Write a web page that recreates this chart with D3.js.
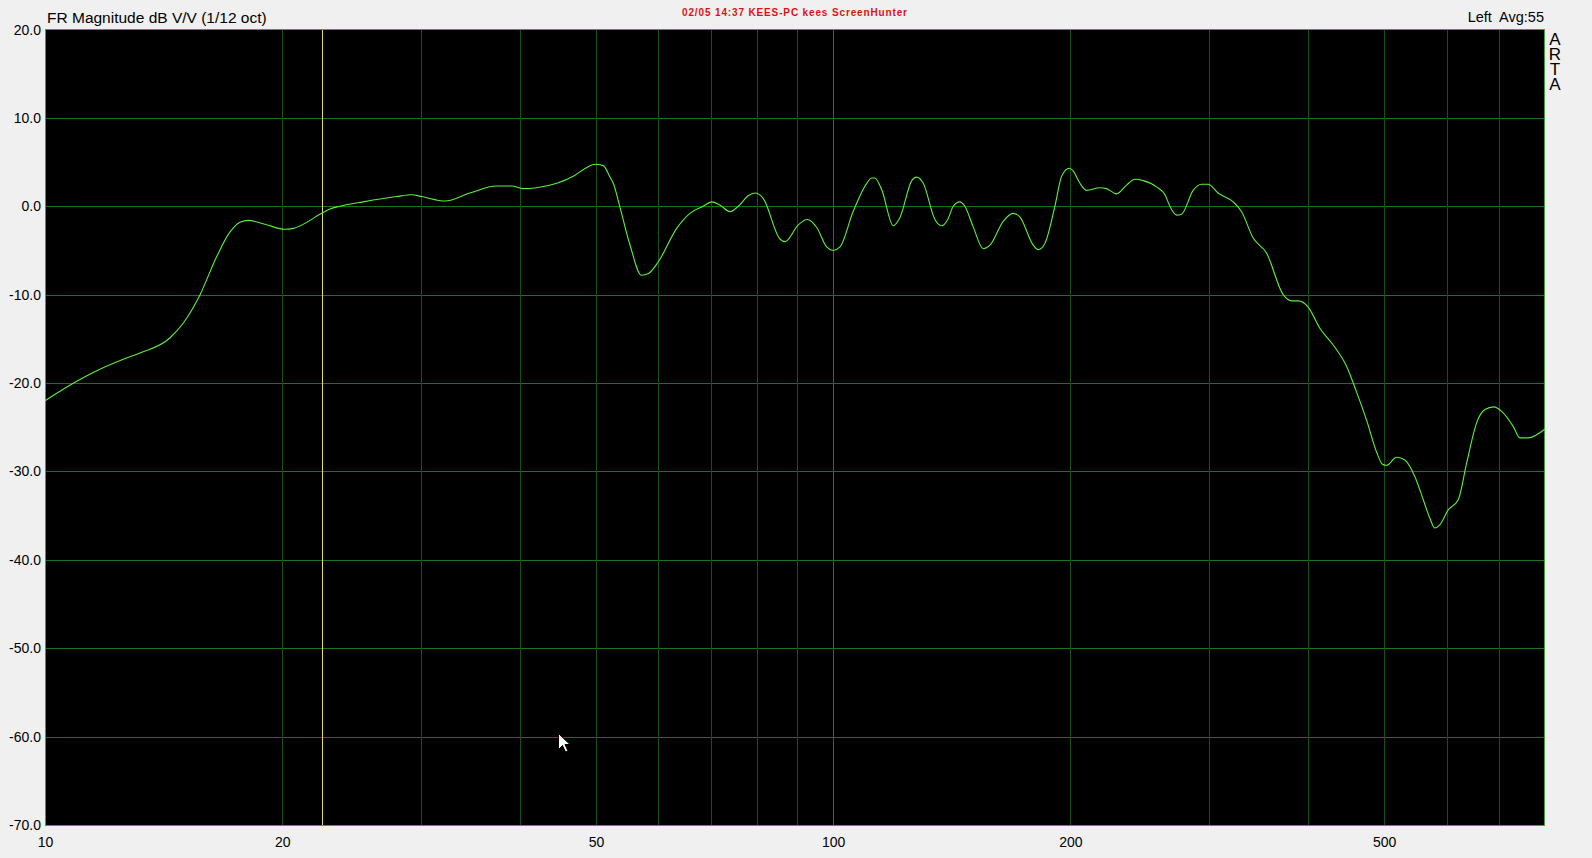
<!DOCTYPE html>
<html><head><meta charset="utf-8">
<script src="https://cdn.jsdelivr.net/npm/d3@7"></script>
<style>html,body{margin:0;padding:0;background:#f0f0f0;overflow:hidden}svg{display:block}</style>
</head><body>
<svg id="c" width="1592" height="858"></svg>
<script>
// ---- data ----
const freqHz = [10.0,10.97,11.51,12.57,13.2,14.4,14.98,15.73,16.51,17.17,17.68,18.11,19.1,20.16,20.65,22.44,23.0,23.67,25.34,27.93,29.19,30.06,32.17,34.6,37.4,39.1,40.4,42.05,44.6,46.8,48.7,49.87,51.08,52.1,52.6,53.6,55.2,57.1,58.3,59.98,63.3,65.8,68.4,70.1,71.8,73.96,75.8,78.0,79.6,81.5,85.6,86.9,90.3,92.7,95.3,98.1,100,102,106,110.3,111.9,112.9,115.2,119.2,121.5,125.8,127.6,130.1,134.6,137.3,139.9,142.0,144.8,146.9,150.5,155.0,158.1,164.3,169.2,172.5,179.4,182.0,185.6,191.1,194.9,199.3,201.6,205.6,209.7,217.9,222.2,228.8,235.6,241.4,247.4,257.2,263.6,267.4,272.7,276.7,286.2,293.3,299.1,307.8,321.7,329.6,341.1,354.7,372.3,381.5,389.0,400.5,414.4,430.9,448.0,461.3,475.0,489.1,497.8,503.6,518.6,531.3,547.1,560.6,571.5,579.9,588.4,603.0,620.9,636.2,655.1,671.2,689.0,704.7,729.0,743.4,761.6,800];
const magDb = [-22.0,-19.8,-18.8,-17.3,-16.6,-14.9,-13.2,-10.0,-5.7,-2.9,-1.8,-1.6,-2.1,-2.6,-2.5,-0.8,-0.3,0.0,0.5,1.1,1.3,1.1,0.6,1.5,2.3,2.3,2.0,2.1,2.6,3.4,4.4,4.75,4.6,3.3,2.6,0.0,-4.3,-7.8,-7.6,-6.3,-2.5,-0.8,0.0,0.5,0.15,-0.6,0.0,1.2,1.5,0.9,-3.7,-4.0,-2.1,-1.5,-2.4,-4.6,-5.0,-4.6,-0.6,2.6,3.2,3.2,1.9,-2.2,-1.3,2.9,3.3,2.6,-1.5,-2.2,-1.4,0.0,0.5,0.0,-2.3,-4.8,-4.4,-1.7,-0.8,-1.2,-4.4,-4.9,-4.2,0.0,3.4,4.3,4.0,2.6,1.8,2.1,2.0,1.4,2.4,3.05,2.9,2.2,1.3,0.0,-1.0,-0.9,1.8,2.5,2.5,1.5,0.5,-0.6,-3.6,-5.3,-10.0,-10.7,-10.7,-11.4,-13.8,-15.7,-18.1,-21.0,-24.2,-27.8,-29.2,-29.3,-28.4,-28.7,-30.6,-33.2,-35.3,-36.4,-36.05,-34.35,-33.2,-29.1,-24.5,-23.0,-22.7,-23.2,-24.9,-26.2,-26.2,-25.2];
const xDomain = [10, 800];
const yDomain = [-70, 20];
const xGridHz = [20,30,40,50,60,70,80,90,100,200,300,400,500,600,700];
const xTickLabels = [10,20,50,100,200,500];
const yTicks = [20,10,0,-10,-20,-30,-40,-50,-60,-70];
const markerHz = 22.47;
const cursorPos = [44.75, -59.6];
const titleText = "FR Magnitude dB V/V (1/12 oct)";
const stampText = "02/05 14:37 KEES-PC kees ScreenHunter";
const rightText = "Left  Avg:55";
const brandText = "ARTA";

// ---- layout ----
const L = 45, R = 1545, T = 29.5, B = 825;
const svg = d3.select("#c");
const x = d3.scaleLog().domain(xDomain).range([L, R]);
const y = d3.scaleLinear().domain(yDomain).range([B, T]);
const font = "'Liberation Sans', Arial, sans-serif";

svg.append("rect").attr("width",1592).attr("height",858).attr("fill","#f0f0f0");
svg.append("rect").attr("x",L).attr("y",T).attr("width",R-L).attr("height",B-T).attr("fill","#000");

// grid
const g = svg.append("g").attr("shape-rendering","crispEdges");
g.selectAll(".hg").data(yTicks.filter(v=>v>yDomain[0]&&v<yDomain[1])).join("line")
  .attr("x1",L).attr("x2",R).attr("y1",d=>Math.round(y(d))+0.5).attr("y2",d=>Math.round(y(d))+0.5)
  .attr("stroke","#1a721a").attr("stroke-width",1);
g.selectAll(".vg").data(xGridHz).join("line")
  .attr("x1",d=>Math.round(x(d))+0.5).attr("x2",d=>Math.round(x(d))+0.5).attr("y1",T).attr("y2",B)
  .attr("stroke",d=>d===100?"#1c7c1c":"#135213").attr("stroke-width",1);

// yellow marker
g.append("line").attr("x1",Math.round(x(markerHz))+0.5).attr("x2",Math.round(x(markerHz))+0.5)
  .attr("y1",T).attr("y2",B).attr("stroke","#e6dc66").attr("stroke-width",1);

// border
g.append("rect").attr("x",L+0.5).attr("y",T).attr("width",R-L-1).attr("height",B-T)
  .attr("fill","none").attr("stroke","#40a040").attr("stroke-width",1);

// curve
const pts = freqHz.map((f,i)=>[f, magDb[i]]);
const line = d3.line().x(d=>x(d[0])).y(d=>y(d[1])).curve(d3.curveMonotoneX);
svg.append("path").datum(pts).attr("d",line).attr("fill","none")
  .attr("stroke","#5cf03c").attr("stroke-width",1.1);

// y tick labels
svg.selectAll(".yl").data(yTicks).join("text")
  .attr("x",41).attr("y",d=>y(d)+5).attr("text-anchor","end")
  .attr("font-family",font).attr("font-size",14).attr("fill","#000")
  .text(d=>d.toFixed(1));

// x tick labels
svg.selectAll(".xl").data(xTickLabels).join("text")
  .attr("x",d=>x(d)+0.5).attr("y",847).attr("text-anchor","middle")
  .attr("font-family",font).attr("font-size",14).attr("fill","#000")
  .text(d=>d);

// title
svg.append("text").attr("x",47).attr("y",23).attr("font-family",font).attr("font-size",15.5)
  .attr("fill","#000").text(titleText);
// stamp
svg.append("text").attr("x",794.5).attr("y",16).attr("text-anchor","middle")
  .attr("font-family",font).attr("font-size",10).attr("font-weight","bold").attr("fill","#e01010")
  .attr("textLength",225).attr("lengthAdjust","spacing").text(stampText);
// right header
svg.append("text").attr("x",1544).attr("y",22).attr("text-anchor","end")
  .attr("font-family",font).attr("font-size",14.5).attr("fill","#000")
  .style("white-space","pre").text(rightText);
// ARTA stacked vertically (single text)
svg.append("text").attr("x",1555).attr("y",30)
  .attr("font-family",font).attr("font-size",17).attr("fill","#000")
  .style("writing-mode","vertical-rl").style("text-orientation","upright")
  .style("letter-spacing","-4px")
  .text(brandText);

// mouse pointer
const cx = x(cursorPos[0]), cy = y(cursorPos[1]);
svg.append("path")
  .attr("d","M0,0 L0,16 L4,12 L7,18.5 L9.5,17.5 L6.5,11 L11.5,11 Z")
  .attr("transform",`translate(${Math.round(cx)+0.5},${Math.round(cy)+0.5})`)
  .attr("fill","#fff").attr("stroke","#000").attr("stroke-width",1);
</script>
</body></html>
